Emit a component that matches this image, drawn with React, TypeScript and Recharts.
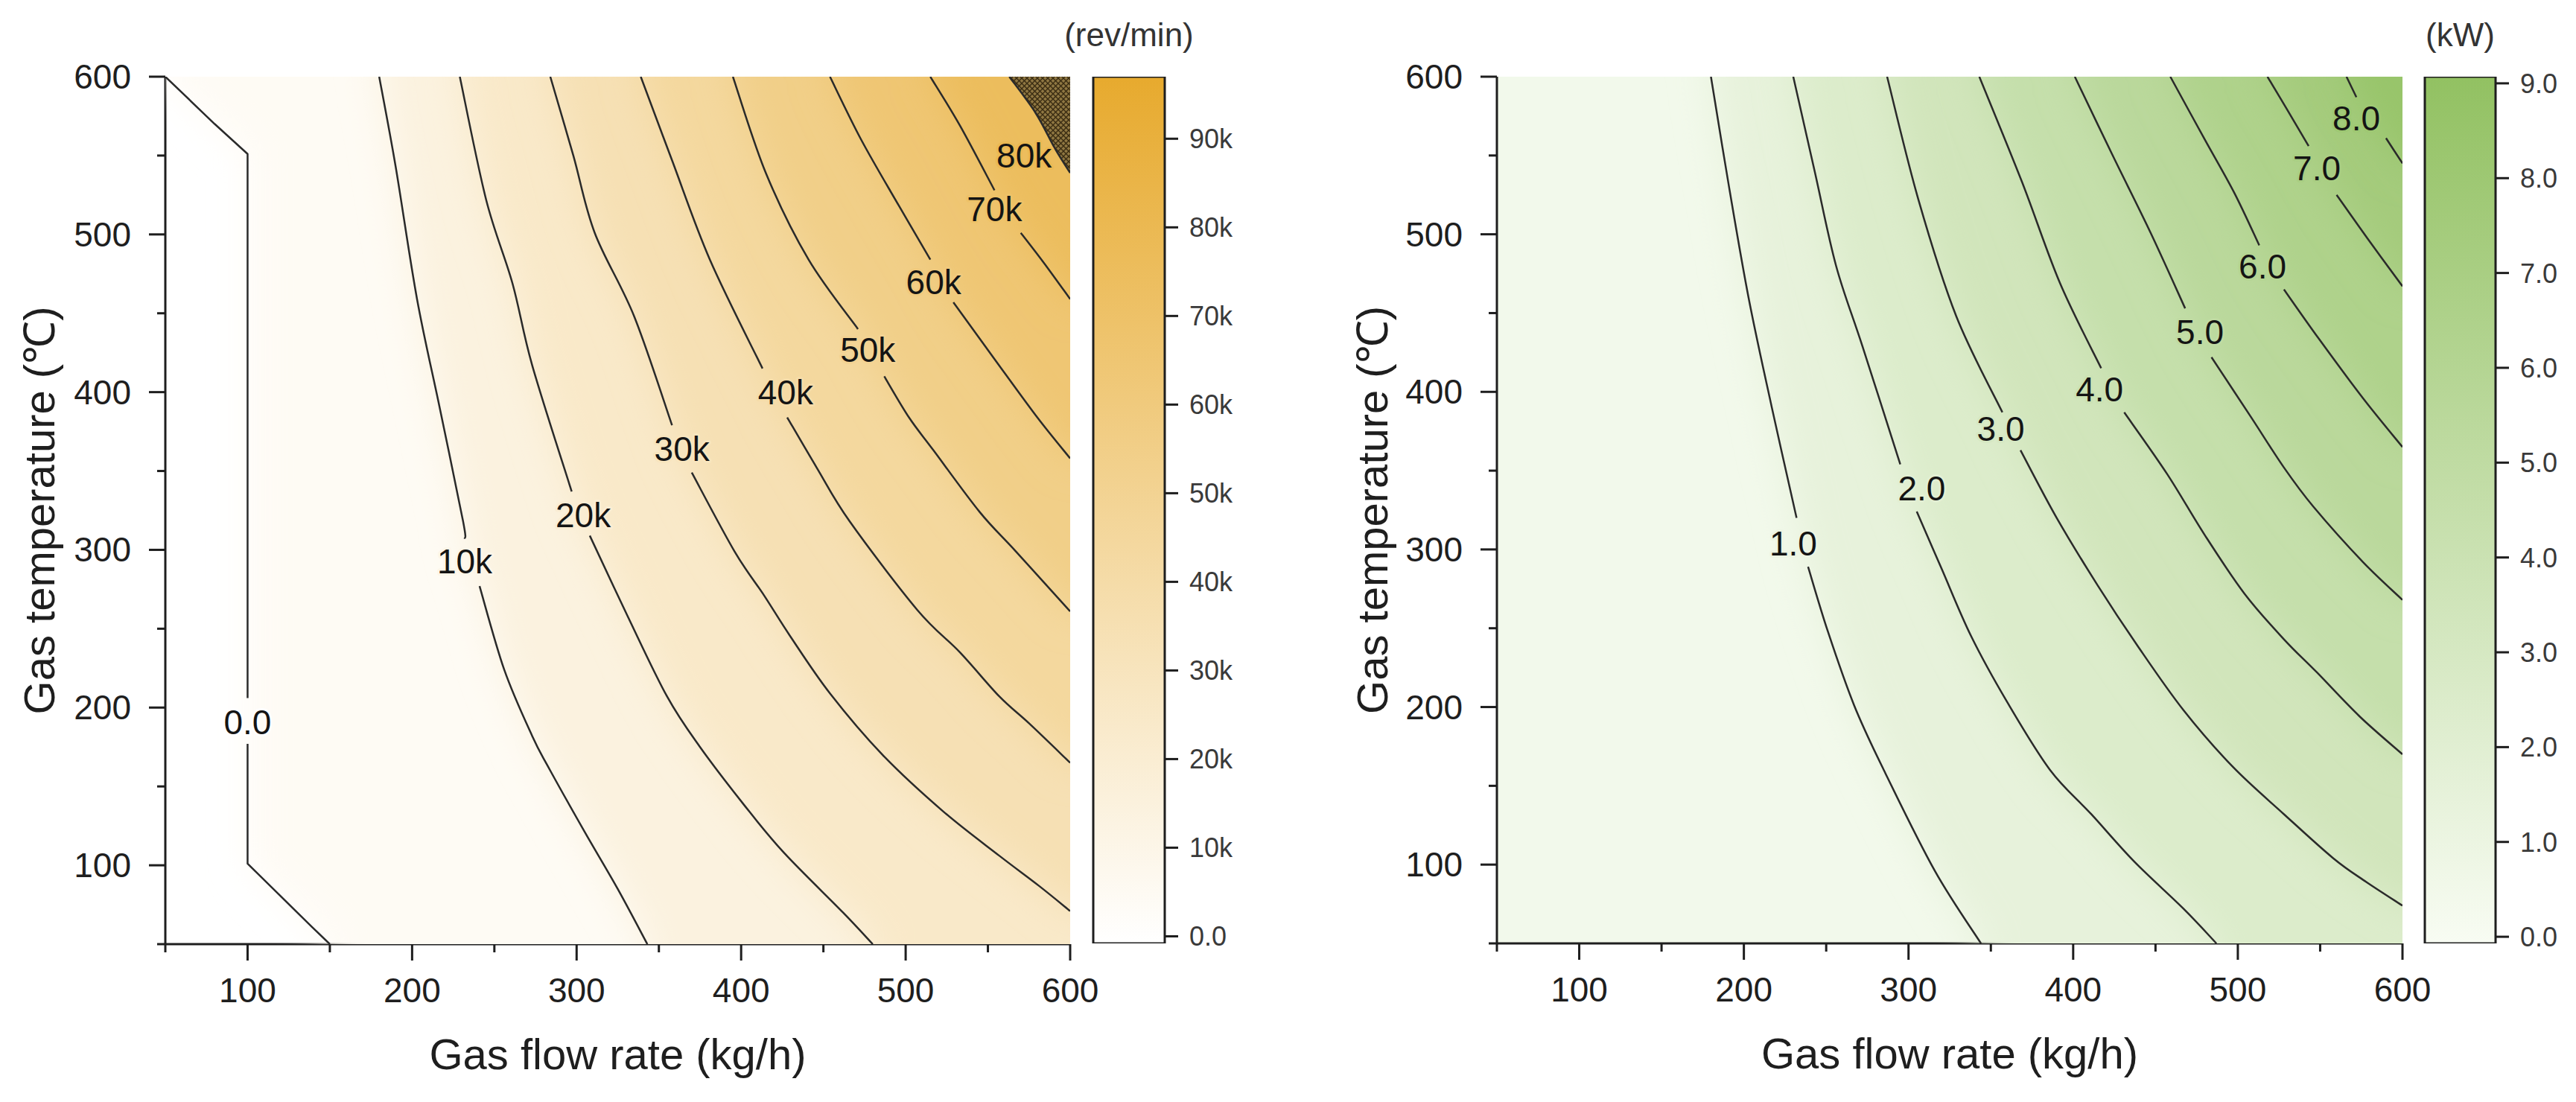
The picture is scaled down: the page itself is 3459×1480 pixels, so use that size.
import React from 'react';
import { ScatterChart, Scatter, XAxis, YAxis, CartesianGrid, ComposedChart, Bar } from 'recharts';

type Pt = [number, number];
type XY = { x: number; y: number };

const FONT = '"Liberation Sans", Arial, Helvetica, sans-serif';
const INK = '#1e1e1e';
const LINE = '#2a2a2a';

// both panels share the same axes: gas flow rate (kg/h) vs gas temperature (°C)
const Y_MIN = 50;
const X_MAX = 600;
const Y_MAX = 600;
const axisTicks = [50, 100, 150, 200, 250, 300, 350, 400, 450, 500, 550, 600];

// turbine speed contours (rev/min); each contour is split where its label sits
const speed0: Pt[][] = [
  [[50, 600], [80, 570], [100, 551], [100, 206]],
  [[100, 177], [100, 101], [139, 61], [150, 50]],
];
const speed10k: Pt[][] = [
  [[180, 600], [190, 543], [203, 459], [217, 389], [231, 318], [232, 307]],
  [[241, 277], [256, 224], [273, 182], [284, 160], [305, 121], [325, 85], [343, 50]],
];
const speed20k: Pt[][] = [
  [[229, 600], [245, 522], [261, 469], [273, 417], [297, 337]],
  [[308, 309], [331, 258], [355, 207], [375, 175], [402, 138], [426, 108], [462, 70], [480, 50]],
];
const speed30k: Pt[][] = [
  [[284, 600], [298, 550], [311, 501], [335, 448], [358, 379]],
  [[370, 349], [396, 299], [414, 271], [430, 245], [454, 209], [486, 170], [523, 134], [557, 106], [581, 87], [600, 71]],
];
const speed40k: Pt[][] = [
  [[339, 600], [358, 547], [381, 484], [413, 415]],
  [[428, 384], [446, 352], [466, 318], [507, 262], [533, 235], [557, 207], [575, 190], [600, 165]],
];
const speed50k: Pt[][] = [
  [[395, 600], [415, 539], [441, 484], [471, 440]],
  [[487, 410], [502, 384], [517, 363], [545, 324], [567, 299], [600, 261]],
];
const speed60k: Pt[][] = [
  [[454, 600], [473, 560], [496, 518], [515, 484]],
  [[529, 457], [554, 421], [580, 384], [600, 358]],
];
const speed70k: Pt[][] = [
  [[515, 600], [533, 569], [554, 528]],
  [[570, 501], [584, 482], [600, 459]],
];
const speed80k: Pt[][] = [[[563, 600], [579, 577], [591, 554], [600, 539]]];

const speedLines = [speed0, speed10k, speed20k, speed30k, speed40k, speed50k, speed60k, speed70k, speed80k];
const speedLevels = [0, 10000, 20000, 30000, 40000, 50000, 60000, 70000, 80000];
const speedLabels = ['0.0', '10k', '20k', '30k', '40k', '50k', '60k', '70k', '80k'];
const speedLabelAt: Pt[] = [
  [100, 191], [232, 293], [304, 322], [364, 364], [427, 400], [477, 427], [517, 470], [554, 516], [572, 550],
];
const speedBarTicks = [0, 10000, 20000, 30000, 40000, 50000, 60000, 70000, 80000, 90000];
const speedBarRange: Pt = [-800, 97000];

// recovered power contours (kW)
const power1: Pt[][] = [
  [[180, 600], [191, 530], [203, 459], [217, 390], [232, 320]],
  [[239, 289], [251, 248], [267, 201], [285, 160], [316, 96], [344, 50]],
];
const power2: Pt[][] = [
  [[230, 600], [243, 540], [256, 480], [272, 429], [295, 354]],
  [[305, 324], [320, 288], [338, 245], [360, 203], [386, 160], [411, 132], [437, 102], [467, 72], [487, 50]],
];
const power3: Pt[][] = [
  [[287, 600], [306, 522], [329, 448], [357, 387]],
  [[368, 363], [390, 320], [415, 277], [439, 239], [467, 198], [497, 162], [528, 132], [558, 104], [578, 89], [600, 74]],
];
const power4: Pt[][] = [
  [[343, 600], [369, 533], [392, 469], [417, 415]],
  [[431, 387], [457, 348], [480, 309], [504, 272], [528, 243], [548, 222], [574, 194], [600, 170]],
];
const power5: Pt[][] = [
  [[401, 600], [424, 550], [447, 501], [468, 453]],
  [[484, 422], [508, 384], [528, 352], [546, 327], [576, 292], [600, 268]],
];
const power6: Pt[][] = [
  [[459, 600], [480, 560], [498, 526], [513, 493]],
  [[528, 465], [549, 434], [576, 396], [600, 365]],
];
const power7: Pt[][] = [
  [[518, 600], [530, 579], [543, 556]],
  [[560, 525], [579, 497], [600, 467]],
];
const power8: Pt[][] = [
  [[566, 600], [572, 587]],
  [[590, 561], [600, 545]],
];

const powerLines = [power1, power2, power3, power4, power5, power6, power7, power8];
const powerLevels = [1, 2, 3, 4, 5, 6, 7, 8];
const powerLabels = ['1.0', '2.0', '3.0', '4.0', '5.0', '6.0', '7.0', '8.0'];
const powerLabelAt: Pt[] = [
  [230, 304], [308, 339], [356, 377], [416, 402], [477, 438], [515, 480], [548, 542], [572, 574],
];
const powerBarTicks = [0, 1, 2, 3, 4, 5, 6, 7, 8, 9];
const powerBarRange: Pt = [-0.07, 9.07];

const mix = (a: number[], b: number[], t: number) => {
  const k = Math.min(1, Math.max(0, t));
  return `rgb(${a.map((v, i) => Math.round(v + (b[i] - v) * k)).join(',')})`;
};
const speedColor = (v: number) => mix([255, 255, 255], [231, 170, 46], v / 97000);
const powerColor = (v: number) => mix([248, 252, 243], [146, 193, 98], v / 9.07);

const toXY = (pts: Pt[]) => pts.map(([x, y]) => ({ x, y }));

// path through pixel points, optionally as a Catmull-Rom spline
function curveThrough(pts: XY[], smooth: boolean, move: boolean) {
  let d = `${move ? 'M' : 'L'}${pts[0].x},${pts[0].y}`;
  for (let i = 0; i < pts.length - 1; i++) {
    const p0 = pts[i - 1] ?? pts[i];
    const p1 = pts[i];
    const p2 = pts[i + 1];
    const p3 = pts[i + 2] ?? p2;
    if (!smooth) {
      d += `L${p2.x},${p2.y}`;
      continue;
    }
    const c1x = p1.x + (p2.x - p0.x) / 6;
    const c1y = p1.y + (p2.y - p0.y) / 6;
    const c2x = p2.x - (p3.x - p1.x) / 6;
    const c2y = p2.y - (p3.y - p1.y) / 6;
    d += `C${c1x},${c1y} ${c2x},${c2y} ${p2.x},${p2.y}`;
  }
  return d;
}

// region on the high side of a contour: follow it, then go round the right-hand corners
function superlevel(segs: Pt[][]) {
  const pts = segs.flat();
  const last = pts[pts.length - 1];
  const corners: Pt[] = last[1] <= Y_MIN ? [[X_MAX, Y_MIN], [X_MAX, Y_MAX]] : [[X_MAX, Y_MAX]];
  return { pts: [...pts, ...corners], nCorners: corners.length };
}

const EXT = 90;

// filled band: points lying on the frame are pushed outwards so the soft edge stays inside the clip
const fillLine =
  (fill: string, nCorners: number, smooth: boolean, filter: string | undefined, clip: string) => (props: any) => {
    const pts: XY[] = props.points;
    const n = pts.length;
    const contour = pts.slice(0, n - nCorners);
    const corners = pts.slice(n - nCorners);
    const right = corners[0].x;
    const top = corners[corners.length - 1].y;
    const bottom = nCorners === 2 ? corners[0].y : Infinity;
    const push = (p: XY) => ({
      x: Math.abs(p.x - right) < 1 ? p.x + EXT : p.x,
      y: Math.abs(p.y - top) < 1 ? p.y - EXT : Math.abs(p.y - bottom) < 1 ? p.y + EXT : p.y,
    });
    const a = push(contour[0]);
    const b = push(contour[contour.length - 1]);
    let d = `M${a.x},${a.y}` + curveThrough(contour, smooth, false) + `L${b.x},${b.y}`;
    corners.forEach((c) => {
      const q = push(c);
      d += `L${q.x},${q.y}`;
    });
    return <path d={d + 'Z'} fill={fill} stroke="none" filter={filter} clipPath={clip} />;
  };

const strokeLine = (smooth: boolean) => (props: any) => (
  <path d={curveThrough(props.points, smooth, true)} fill="none" stroke={LINE} strokeWidth={2.5} strokeLinejoin="round" />
);

const noDot = () => <g />;

function LabelMark(p: any) {
  const d = p.payload ?? p;
  return (
    <text
      x={p.cx}
      y={p.cy}
      dy="0.36em"
      textAnchor="middle"
      fontSize={46}
      fill="#141414"
      stroke={d.bg}
      strokeWidth={6}
      strokeLinejoin="round"
      paintOrder="stroke"
    >
      {d.text}
    </text>
  );
}

function FlowTick({ x, y, payload }: any) {
  const v = payload.value;
  const major = v % 100 === 0;
  return (
    <g>
      <line x1={x} x2={x} y1={y} y2={y + (major ? 22 : 11)} stroke={INK} strokeWidth={3} />
      {major && (
        <text x={x} y={y + 78} textAnchor="middle" fontSize={46} fill={INK}>
          {v}
        </text>
      )}
    </g>
  );
}

function TempTick({ x, y, payload }: any) {
  const v = payload.value;
  const major = v % 100 === 0;
  return (
    <g>
      <line x1={x} x2={x - (major ? 22 : 11)} y1={y} y2={y} stroke={INK} strokeWidth={3} />
      {major && (
        <text x={x - 46} y={y + 16} textAnchor="end" fontSize={46} fill={INK}>
          {v}
        </text>
      )}
    </g>
  );
}

function BarTick({ x, y, payload, fmt }: any) {
  return (
    <g>
      <line x1={x} x2={x + 18} y1={y} y2={y} stroke={INK} strokeWidth={3} />
      <text x={x + 33} y={y} dy="0.36em" fontSize={36} fill="#3a3a3a">
        {fmt(payload.value)}
      </text>
    </g>
  );
}

interface PanelProps {
  id: string;
  left: number;
  width: number;
  margin: { top: number; right: number; bottom: number; left: number };
  lines: Pt[][][];
  sharp: number[];
  labels: string[];
  labelAt: Pt[];
  bandFill: (i: number) => string;
  labelBg: (i: number) => string;
  baseFill: string;
  titleOffset: number;
}

const Y_AXIS_W = 200;
const X_AXIS_H = 180;
const CHART_H = 1480;

function ContourPanel(props: PanelProps) {
  const { id, left, width, margin, lines, sharp, labels, labelAt, bandFill, labelBg, baseFill, titleOffset } = props;
  const labelData = labels.map((text, i) => ({ x: labelAt[i][0], y: labelAt[i][1], text, bg: labelBg(i) }));
  const plot = {
    x: margin.left + Y_AXIS_W,
    y: margin.top,
    w: width - margin.left - Y_AXIS_W - margin.right,
    h: CHART_H - margin.top - margin.bottom - X_AXIS_H,
  };
  return (
    <div style={{ position: 'absolute', left, top: 0 }}>
      <ScatterChart width={width} height={CHART_H} margin={margin}>
        <defs>
          <pattern id={`${id}-hatch`} width="7" height="7" patternUnits="userSpaceOnUse">
            <rect width="7" height="7" fill="#8f7742" />
            <path d="M0,0L7,7M7,0L0,7" stroke="#3a2c12" strokeWidth="1.4" />
          </pattern>
          <filter id={`${id}-soft`} filterUnits="userSpaceOnUse" x={0} y={0} width={width} height={CHART_H}>
            <feGaussianBlur stdDeviation="26" />
          </filter>
          <clipPath id={`${id}-clip`}>
            <rect x={plot.x} y={plot.y} width={plot.w} height={plot.h} />
          </clipPath>
        </defs>
        <CartesianGrid horizontal={false} vertical={false} fill={baseFill} fillOpacity={1} stroke="none" />
        {lines.map((segs, i) => {
          const { pts, nCorners } = superlevel(segs);
          const fill = bandFill(i);
          const soft = fill.startsWith('url') ? undefined : `url(#${id}-soft)`;
          return (
            <Scatter
              key={`band-${i}`}
              data={toXY(pts)}
              line={fillLine(fill, nCorners, !sharp.includes(i), soft, `url(#${id}-clip)`)}
              lineType="joint"
              shape={noDot}
              isAnimationActive={false}
            />
          );
        })}
        {lines.flatMap((segs, i) =>
          segs.map((seg, j) => (
            <Scatter
              key={`line-${i}-${j}`}
              data={toXY(seg)}
              line={strokeLine(!sharp.includes(i))}
              lineType="joint"
              shape={noDot}
              isAnimationActive={false}
            />
          ))
        )}
        <Scatter data={labelData} shape={LabelMark} isAnimationActive={false} />
        <XAxis
          type="number"
          dataKey="x"
          domain={[50, 600]}
          allowDataOverflow
          ticks={axisTicks}
          interval={0}
          height={X_AXIS_H}
          tickLine={false}
          tickSize={0}
          tickMargin={0}
          tick={(p: any) => <FlowTick {...p} />}
          axisLine={{ stroke: INK, strokeWidth: 3 }}
          label={{ value: 'Gas flow rate (kg/h)', position: 'insideBottom', offset: 12, fontSize: 58, fill: INK }}
        />
        <YAxis
          type="number"
          dataKey="y"
          domain={[50, 600]}
          allowDataOverflow
          ticks={axisTicks}
          interval={0}
          width={Y_AXIS_W}
          tickLine={false}
          tickSize={0}
          tickMargin={0}
          tick={(p: any) => <TempTick {...p} />}
          axisLine={{ stroke: INK, strokeWidth: 3 }}
          label={{
            value: 'Gas temperature (℃)',
            angle: -90,
            position: 'insideLeft',
            offset: titleOffset,
            fontSize: 58,
            fill: INK,
            style: { textAnchor: 'middle' },
          }}
        />
        <XAxis xAxisId="top" orientation="top" type="number" domain={[50, 600]} height={0} tick={false} tickLine={false} axisLine={{ stroke: INK, strokeWidth: 3 }} />
        <YAxis yAxisId="right" orientation="right" type="number" domain={[50, 600]} width={0} tick={false} tickLine={false} axisLine={{ stroke: INK, strokeWidth: 3 }} />
      </ScatterChart>
    </div>
  );
}

interface BarProps {
  left: number;
  width: number;
  marginLeft: number;
  axisWidth: number;
  marginRight: number;
  range: Pt;
  ticks: number[];
  fmt: (v: number) => string;
  color: (v: number) => string;
  id: string;
  unit: string;
}

function ColorBar({ left, width, marginLeft, axisWidth, marginRight, range, ticks, fmt, color, id, unit }: BarProps) {
  const data = [{ k: id, v: range }];
  const plotMid = left + marginLeft + (width - marginLeft - axisWidth - marginRight) / 2;
  return (
    <>
      <div
        style={{
          position: 'absolute',
          left: plotMid - 150,
          top: 25,
          width: 300,
          textAlign: 'center',
          fontSize: 44,
          lineHeight: '44px',
          color: '#333',
        }}
      >
        {unit}
      </div>
      <div style={{ position: 'absolute', left, top: 0 }}>
        <ComposedChart width={width} height={CHART_H} data={data} margin={{ top: 103, right: marginRight, bottom: 213, left: marginLeft }} barCategoryGap={0}>
          <defs>
            <linearGradient id={id} x1="0" y1="0" x2="0" y2="1">
              <stop offset="0" stopColor={color(range[1])} />
              <stop offset="1" stopColor={color(range[0])} />
            </linearGradient>
          </defs>
          <XAxis dataKey="k" hide />
          <YAxis
            orientation="right"
            type="number"
            domain={range}
            allowDataOverflow
            ticks={ticks}
            interval={0}
            width={axisWidth}
            axisLine={false}
            tickLine={false}
            tickSize={0}
            tickMargin={0}
            tick={(p: any) => <BarTick {...p} fmt={fmt} />}
          />
          <Bar dataKey="v" fill={`url(#${id})`} stroke={INK} strokeWidth={3} isAnimationActive={false} />
        </ComposedChart>
      </div>
    </>
  );
}

export default function App() {
  return (
    <div style={{ position: 'absolute', left: 0, top: 0, width: 3459, height: 1480, background: '#fff', fontFamily: FONT }}>
      <ContourPanel
        id="speed"
        left={0}
        width={1490}
        margin={{ top: 103, right: 53, bottom: 32, left: 22 }}
        lines={speedLines}
        sharp={[0]}
        labels={speedLabels}
        labelAt={speedLabelAt}
        bandFill={(i) => (i === speedLevels.length - 1 ? 'url(#speed-hatch)' : speedColor(speedLevels[i] + 5000))}
        labelBg={(i) => speedColor(speedLevels[i])}
        baseFill={speedColor(0)}
        titleOffset={30}
      />
      <ColorBar
        left={1400}
        width={300}
        marginLeft={68}
        axisWidth={130}
        marginRight={6}
        range={speedBarRange}
        ticks={speedBarTicks}
        fmt={(v) => (v === 0 ? '0.0' : `${v / 1000}k`)}
        color={speedColor}
        id="speedBar"
        unit="(rev/min)"
      />
      <ContourPanel
        id="power"
        left={1750}
        width={1530}
        margin={{ top: 103, right: 54, bottom: 33, left: 60 }}
        lines={powerLines}
        sharp={[]}
        labels={powerLabels}
        labelAt={powerLabelAt}
        bandFill={(i) => powerColor(powerLevels[i] + 0.5)}
        labelBg={(i) => powerColor(powerLevels[i])}
        baseFill={powerColor(0.5)}
        titleOffset={32}
      />
      <ColorBar
        left={3190}
        width={269}
        marginLeft={66}
        axisWidth={100}
        marginRight={8}
        range={powerBarRange}
        ticks={powerBarTicks}
        fmt={(v) => v.toFixed(1)}
        color={powerColor}
        id="powerBar"
        unit="(kW)"
      />
    </div>
  );
}
